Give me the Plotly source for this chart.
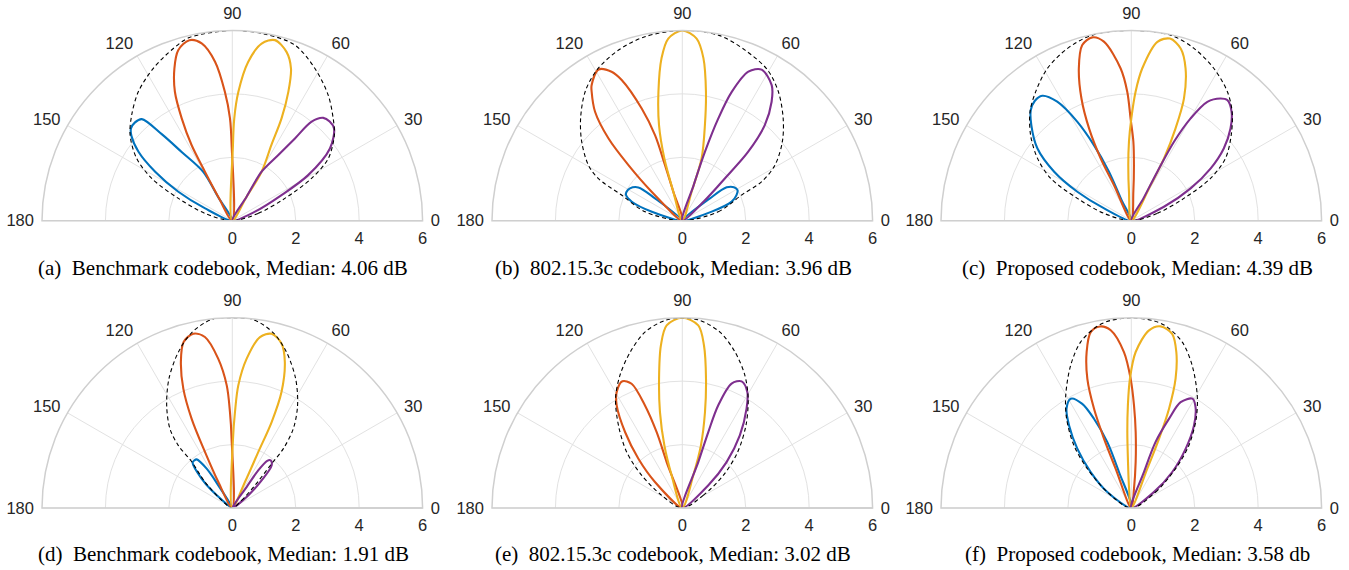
import plotly.graph_objects as go

# ---------------- colours ----------------
BLUE, ORANGE, YELLOW, PURPLE = "#0072BD", "#D95319", "#EDB120", "#7E2F8E"

# ---------------- axis ticks ----------------
ANG_TICKS = [0, 30, 60, 90, 120, 150, 180]
RAD_TICKS = [0, 2, 4, 6]

CAPTIONS = [
    "(a)\u00a0 Benchmark codebook, Median: 4.06 dB",
    "(b)\u00a0 802.15.3c codebook, Median: 3.96 dB",
    "(c)\u00a0 Proposed codebook, Median: 4.39 dB",
    "(d)\u00a0 Benchmark codebook, Median: 1.91 dB",
    "(e)\u00a0 802.15.3c codebook, Median: 3.02 dB",
    "(f)\u00a0 Proposed codebook, Median: 3.58 db",
]

# ---------------- panel (a) ----------------
A_BLUE_T = [120.8, 121.0, 120.8, 126.4, 129.2, 131.7, 134.7, 137.7, 140.0, 143.7, 147.6, 151.8, 155.7, 160.0]
A_BLUE_R = [0, 0.86, 1.79, 2.69, 3.52, 4.29, 4.36, 4.32, 4.15, 3.67, 2.88, 1.93, 0.94, 0]
A_ORANGE_T = [90.3, 90.5, 91.3, 93.3, 96.2, 99.8, 103.4, 107.6, 110.8, 114.0, 116.3, 118.3, 119.2, 120.5, 121.0]
A_ORANGE_R = [0, 2.38, 3.23, 4.07, 5.04, 5.67, 5.85, 5.64, 5.14, 4.45, 3.60, 2.71, 1.77, 0.85, 0]
A_YELLOW_T = [59.5, 59.2, 59.1, 62.7, 64.3, 66.5, 68.9, 72.2, 76.7, 80.6, 84.3, 87.3, 88.9, 89.5, 89.7]
A_YELLOW_R = [0, 0.88, 1.80, 2.69, 3.58, 4.43, 5.14, 5.59, 5.85, 5.66, 5.03, 4.07, 3.23, 2.38, 0]
A_PURPLE_T = [17.0, 21.7, 27.5, 31.0, 36.5, 42.2, 45.5, 48.5, 51.3, 52.7, 55.0, 59.1, 59.2, 59.5]
A_PURPLE_R = [0, 0.77, 1.75, 2.79, 3.83, 4.33, 4.38, 4.33, 4.00, 3.26, 2.53, 1.80, 0.88, 0]
A_ENV_T = [0, 15.75, 23, 28.1, 33, 40, 45.4, 52.6, 61.5, 70.4, 80, 90, 103.2, 108.9, 117.4, 126.1, 133.6, 140.1, 146.9, 152.3, 157.5, 165, 180]
A_ENV_R = [0, 0.85, 1.8, 2.83, 3.61, 4.2, 4.53, 4.98, 5.46, 5.88, 5.97, 6.0, 5.93, 5.74, 5.41, 5.03, 4.6, 4.2, 3.6, 2.87, 1.84, 0.89, 0]

# ---------------- panel (b) ----------------
B_BLUE_T = [13, 17.1, 21.1, 25.3, 29, 33, 36.9, 38.9, 40, None, 140, 140.7, 142.9, 148.3, 152.5, 155.5, 159.4, 163.6, 167]
B_BLUE_R = [0, 0.97, 1.67, 1.89, 1.99, 1.94, 1.75, 1.12, 0, None, 0, 1.11, 1.74, 1.94, 1.98, 1.95, 1.70, 1.00, 0]
B_ORANGE_T = [107.5, 107.2, 107.3, 107.7, 109.9, 113.3, 115.4, 119.0, 123.8, 125.1, 128.7, 131.9, 134.1, 136.6, 138.0]
B_ORANGE_R = [0, 0.96, 1.84, 2.83, 3.76, 4.83, 5.20, 5.45, 5.14, 4.97, 4.40, 3.49, 2.44, 1.33, 0]
B_YELLOW_T = [72, 72.2, 72.8, 76.7, 79.6, 82.6, 85.5, 90, 94.4, 97.3, 100.5, 103.7, 106.1, 107.2, 107.5]
B_YELLOW_R = [0, 0.96, 2.06, 3.10, 4.13, 5.17, 5.76, 6.0, 5.76, 5.16, 4.13, 3.10, 2.04, 0.96, 0]
B_PURPLE_T = [41, 42, 44.8, 46.3, 49.2, 53.1, 56.6, 62.3, 66.1, 69, 70.6, 71.8, 72.3, 72.5]
B_PURPLE_R = [0, 0.93, 1.89, 3.00, 3.98, 4.69, 5.12, 5.38, 5.14, 4.35, 3.42, 2.29, 1.18, 0]
B_ENV_T = [0, 14, 23.4, 26.2, 31, 38.3, 45.4, 53.3, 60.5, 69.8, 79, 90, 101.5, 110.6, 119.6, 127, 134.8, 141.9, 149.4, 153.3, 157.1, 166.4, 180]
B_ENV_R = [0, 1.17, 2.04, 2.79, 3.41, 4.02, 4.53, 5.07, 5.46, 5.73, 5.96, 6.0, 5.92, 5.74, 5.46, 5.09, 4.55, 4.03, 3.44, 2.97, 2.08, 1.21, 0]

# ---------------- panel (c) ----------------
C_BLUE_T = [115, 115.3, 114.5, 116.3, 118.6, 121.9, 125.5, 128.9, 132.3, 136.3, 142.4, 147.6, 151.8, 155.7, 159]
C_BLUE_R = [0, 0.66, 1.70, 2.66, 3.55, 4.42, 4.84, 4.85, 4.71, 4.36, 3.74, 2.88, 1.93, 0.94, 0]
C_ORANGE_T = [86, 86, 87.3, 88.5, 90.4, 91.8, 94, 98.7, 102, 105.6, 109, 112.2, 114.6, 116.2, 116.0, 117]
C_ORANGE_R = [0, 0.92, 1.76, 2.49, 3.22, 4.07, 4.81, 5.71, 5.91, 5.75, 5.08, 4.16, 3.20, 2.19, 1.25, 0]
C_YELLOW_T = [61, 61.5, 62.3, 64.4, 66.7, 70.4, 74, 78, 81.7, 85.9, 88.1, 90, 91.7, 93.1, 94.6, 95]
C_YELLOW_R = [0, 1.28, 2.22, 3.23, 4.20, 5.10, 5.65, 5.87, 5.70, 4.81, 4.07, 3.22, 2.49, 1.76, 0.92, 0]
C_PURPLE_T = [20, 23.2, 28.6, 33.4, 38, 42.9, 47.4, 51.5, 53.9, 57.4, 59.9, 61.6, 62, 61.5, 61]
C_PURPLE_R = [0, 1.12, 2.13, 3.00, 3.70, 4.27, 4.67, 4.86, 4.77, 4.45, 3.73, 2.83, 1.75, 0.81, 0]
C_ENV_T = [0, 15.75, 23, 28.1, 33.5, 40.6, 47.2, 53.3, 61.5, 70, 78, 90, 101.9, 110.4, 118.9, 126.6, 132.9, 139.6, 146.4, 152.3, 157.5, 165, 180]
C_ENV_R = [0, 0.85, 1.8, 2.83, 3.56, 4.15, 4.68, 5.07, 5.46, 5.78, 5.98, 6.0, 5.98, 5.79, 5.48, 5.06, 4.69, 4.17, 3.55, 2.87, 1.84, 0.89, 0]

# ---------------- panel (d) ----------------
D_BLUE_T = [121, 121.7, 123.1, 126.2, 128.6, 131.2, 136.3, 139.5, 143]
D_BLUE_R = [0, 0.84, 1.48, 1.90, 1.92, 1.90, 1.34, 0.86, 0]
D_ORANGE_T = [90.3, 90.6, 91.4, 92.6, 95.4, 99.1, 102.6, 106.4, 109.4, 112.3, 114.5, 116, 118.3, 119]
D_ORANGE_R = [0, 2.19, 3.03, 3.87, 4.73, 5.46, 5.63, 5.45, 4.88, 4.07, 3.09, 1.96, 0.93, 0]
D_YELLOW_T = [63, 64, 65.1, 65.4, 67, 70.2, 73.3, 77.3, 80.8, 84.5, 87.2, 88.4, 89.4, 89.7]
D_YELLOW_R = [0, 0.91, 1.95, 2.98, 3.97, 4.89, 5.41, 5.63, 5.46, 4.73, 3.87, 3.03, 2.19, 0]
D_PURPLE_T = [36, 38.4, 43.3, 47.3, 51.2, 53.5, 55.4, 55.7, 57]
D_PURPLE_R = [0, 0.64, 1.27, 1.83, 1.93, 1.85, 1.44, 0.80, 0]
D_ENV_T = [36, 39.4, 45, 48.4, 49.3, 52.4, 57.5, 63.9, 70.8, 76.8, 83.7, 90, 96.3, 103.1, 109.1, 116.1, 122.6, 128.2, 130.8, 131.2, 136.4, 144, 146]
D_ENV_R = [0, 0.38, 1.01, 1.87, 2.47, 3.15, 3.83, 4.54, 5.2, 5.67, 5.98, 6.0, 5.98, 5.67, 5.2, 4.54, 3.84, 3.18, 2.61, 1.96, 1.19, 0.41, 0]

# ---------------- panel (e) ----------------
E_ORANGE_T = [108.5, 108.8, 108.7, 110, 112.2, 115.3, 119.5, 122.6, 127, 131.7, 136.4, 139]
E_ORANGE_R = [0, 1.53, 2.53, 3.44, 4.23, 4.42, 4.20, 3.84, 3.00, 2.08, 1.19, 0]
E_YELLOW_T = [71, 71.4, 73.4, 76.7, 79.6, 82.4, 85, 90, 94.9, 97.5, 100.2, 103.1, 106, 108.1, 108.5]
E_YELLOW_R = [0, 1.08, 2.05, 3.11, 4.14, 5.17, 5.78, 6.0, 5.78, 5.17, 4.14, 3.11, 2.05, 1.08, 0]
E_PURPLE_T = [40, 41.1, 46, 51.6, 57.1, 60.7, 64.9, 68.4, 70.7, 71.1, 70.8, 71]
E_PURPLE_R = [0, 1.09, 2.01, 2.92, 3.73, 4.19, 4.41, 4.22, 3.43, 2.53, 1.53, 0]
E_ENV_T = [20, 31.1, 38.5, 45.3, 52.4, 58.9, 64.7, 71.3, 77.9, 84.6, 90, 95.3, 102, 108.5, 115.2, 121.4, 127.7, 134.8, 141.2, 148.5, 160]
E_ENV_R = [0, 0.77, 1.65, 2.48, 3.29, 4.02, 4.62, 5.19, 5.67, 5.94, 6.0, 5.94, 5.67, 5.18, 4.62, 4.04, 3.29, 2.49, 1.64, 0.76, 0]

# ---------------- panel (f) ----------------
F_BLUE_T = [108.5, 108.9, 110, 112.7, 115.2, 119, 123.1, 127, 132.3, 138.5, 146.3, 150]
F_BLUE_R = [0, 1.20, 2.21, 3.05, 3.63, 3.94, 3.74, 3.26, 2.53, 1.71, 0.91, 0]
F_ORANGE_T = [82, 82.1, 84.6, 86.7, 88.5, 90.3, 92.7, 96.6, 99.8, 103, 106, 108.8, 110.6, 111.5, 111.7, 112]
F_ORANGE_R = [0, 0.62, 1.46, 2.40, 3.24, 4.08, 4.92, 5.64, 5.81, 5.69, 5.11, 4.30, 3.34, 2.35, 1.33, 0]
F_YELLOW_T = [68, 67.9, 68.2, 69.2, 71.1, 73.9, 76.8, 80.8, 84.3, 88.4, 90.6, 91.9, 93, 94.1, 96.5, 97]
F_YELLOW_R = [0, 1.34, 2.35, 3.35, 4.31, 5.12, 5.64, 5.80, 5.63, 4.92, 4.08, 3.24, 2.40, 1.45, 0.61, 0]
F_PURPLE_T = [33, 35.2, 41.3, 47.5, 52.8, 57.5, 60.8, 65, 67.1, 69.8, 70.6, 71]
F_PURPLE_R = [0, 0.87, 1.72, 2.54, 3.27, 3.77, 3.95, 3.68, 3.05, 2.22, 1.20, 0]
F_ENV_T = [28, 33.3, 41.6, 47.4, 54, 59.6, 66.9, 72.9, 79.3, 83.6, 90, 96.3, 100.6, 107, 113, 120.2, 125.9, 132.5, 138.2, 146.3, 152]
F_ENV_R = [0, 0.92, 1.87, 2.68, 3.48, 4.11, 4.89, 5.47, 5.84, 5.95, 6.0, 5.95, 5.83, 5.47, 4.89, 4.11, 3.48, 2.68, 1.86, 0.91, 0]

PANELS = [
    ([(A_BLUE_T, A_BLUE_R, BLUE), (A_ORANGE_T, A_ORANGE_R, ORANGE), (A_YELLOW_T, A_YELLOW_R, YELLOW), (A_PURPLE_T, A_PURPLE_R, PURPLE)], (A_ENV_T, A_ENV_R)),
    ([(B_BLUE_T, B_BLUE_R, BLUE), (B_ORANGE_T, B_ORANGE_R, ORANGE), (B_YELLOW_T, B_YELLOW_R, YELLOW), (B_PURPLE_T, B_PURPLE_R, PURPLE)], (B_ENV_T, B_ENV_R)),
    ([(C_BLUE_T, C_BLUE_R, BLUE), (C_ORANGE_T, C_ORANGE_R, ORANGE), (C_YELLOW_T, C_YELLOW_R, YELLOW), (C_PURPLE_T, C_PURPLE_R, PURPLE)], (C_ENV_T, C_ENV_R)),
    ([(D_BLUE_T, D_BLUE_R, BLUE), (D_ORANGE_T, D_ORANGE_R, ORANGE), (D_YELLOW_T, D_YELLOW_R, YELLOW), (D_PURPLE_T, D_PURPLE_R, PURPLE)], (D_ENV_T, D_ENV_R)),
    ([(E_ORANGE_T, E_ORANGE_R, ORANGE), (E_YELLOW_T, E_YELLOW_R, YELLOW), (E_PURPLE_T, E_PURPLE_R, PURPLE)], (E_ENV_T, E_ENV_R)),
    ([(F_BLUE_T, F_BLUE_R, BLUE), (F_ORANGE_T, F_ORANGE_R, ORANGE), (F_YELLOW_T, F_YELLOW_R, YELLOW), (F_PURPLE_T, F_PURPLE_R, PURPLE)], (F_ENV_T, F_ENV_R)),
]

# ---------------- layout geometry (pixels) ----------------
W, H = 1349, 570
R_PX = 190.3
CENTERS = [(232.3, 220.7), (682.3, 220.7), (1131.3, 220.7),
           (232.3, 508.0), (682.3, 508.0), (1131.3, 508.0)]
CAPTION_POS = [(223, 268), (673, 268), (1137, 268), (223, 554), (673, 554), (1137, 554)]

TICK_FONT = dict(family="Liberation Sans, Arial, sans-serif", size=16.5, color="#262626")
GRID = "#e2e2e2"
EDGE = "#cfcfcf"

fig = go.Figure()
layout_upd = {}
for i, (lobes, env) in enumerate(PANELS):
    pname = "polar" if i == 0 else f"polar{i + 1}"
    for t, r, col in lobes:
        fig.add_trace(go.Scatterpolar(theta=t, r=r, mode="lines", subplot=pname,
                                      line=dict(color=col, width=2.1, shape="spline", smoothing=0.9),
                                      cliponaxis=False, showlegend=False, hoverinfo="skip"))
    fig.add_trace(go.Scatterpolar(theta=env[0], r=env[1], mode="lines", subplot=pname,
                                  line=dict(color="black", width=1.1, dash="4px,3px", shape="spline", smoothing=0.9),
                                  cliponaxis=False, showlegend=False, hoverinfo="skip"))
    cx, cy = CENTERS[i]
    layout_upd[pname] = dict(
        domain=dict(x=[(cx - R_PX) / W, (cx + R_PX) / W], y=[1 - cy / H, 1 - (cy - R_PX) / H]),
        sector=[0, 180],
        bgcolor="white",
        radialaxis=dict(range=[0, 6], tickvals=RAD_TICKS, ticks="outside", ticklen=3,
                        tickcolor="rgba(0,0,0,0)", showline=True, linecolor=EDGE,
                        linewidth=1.3, gridcolor=GRID, gridwidth=1, angle=0, side="clockwise",
                        tickfont=TICK_FONT, tickangle=0),
        angularaxis=dict(tickvals=ANG_TICKS, direction="counterclockwise", rotation=0,
                         ticks="outside", ticklen=4, tickcolor="rgba(0,0,0,0)",
                         showline=True, linecolor=EDGE, linewidth=1.5, gridcolor=GRID, gridwidth=1,
                         tickfont=TICK_FONT),
    )

annotations = []
for (x, y), txt in zip(CAPTION_POS, CAPTIONS):
    annotations.append(dict(x=x / W, y=1 - y / H, xref="paper", yref="paper", text=txt, showarrow=False,
                            xanchor="center", yanchor="middle",
                            font=dict(family="Liberation Serif, Times New Roman, serif", size=21, color="black")))

fig.update_layout(width=W, height=H, margin=dict(l=0, r=0, t=0, b=0), paper_bgcolor="white",
                  plot_bgcolor="white", annotations=annotations, **layout_upd)

fig.write_html("out.html", config={"displayModeBar": False},
               post_script="document.body.style.margin='0';")
